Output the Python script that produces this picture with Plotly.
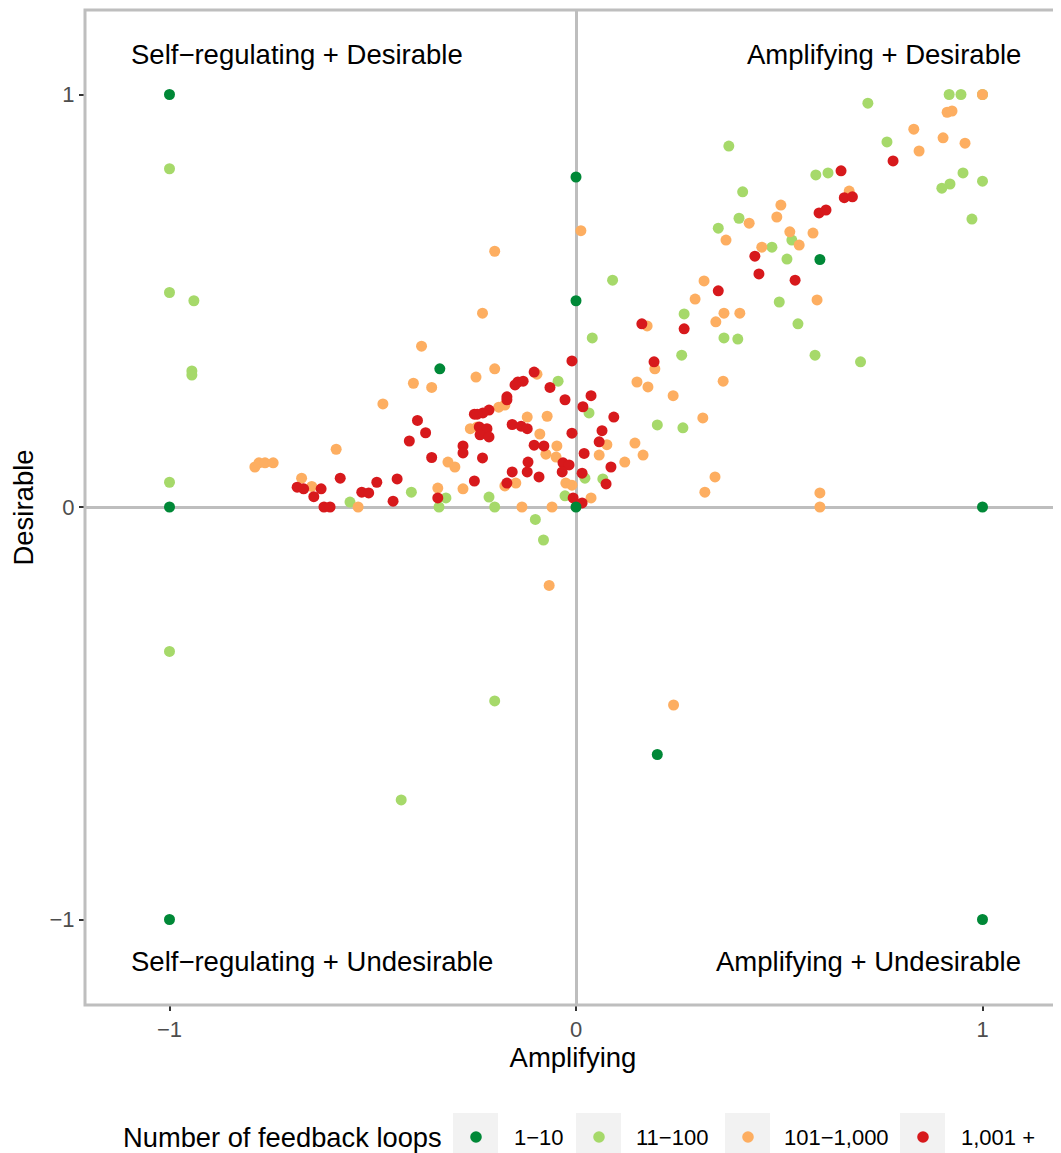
import plotly.graph_objects as go

# ---- data (Amplifying, Desirable) by number of feedback loops ----
loops_1_10_x = [-1, -1, -1, 0, 0, 0, -0.335, 0.60, 0.20, 1, 1]
loops_1_10_y = [1, 0, -1, 0.80, 0.50, 0, 0.335, 0.60, -0.60, 0, -1]

loops_11_100_x = [-1, -1, -0.94, -0.945, -0.945, -1, -1, -0.20, -0.43, -0.08, -0.10,
                  0.09, 0.04, -0.556, -0.405, -0.337, -0.32, -0.214, -0.20, -0.044,
                  0.032, 0.022, -0.027, 0.066, 0.20, 0.263, 0.266, 0.364, 0.26, 0.376,
                  0.59, 0.62, 0.41, 0.401, 0.35, 0.531, 0.482, 0.519, 0.50, 0.546,
                  0.398, 0.918, 0.947, 1.0, 0.718, 0.765, 0.952, 0.92, 0.90, 1.0,
                  0.974, 0.588, 0.70]
loops_11_100_y = [0.82, 0.52, 0.50, 0.33, 0.32, 0.06, -0.35, -0.47, -0.71, -0.08, -0.03,
                  0.55, 0.41, 0.012, 0.036, 0.0, 0.022, 0.024, 0.0, 0.305,
                  0.228, 0.07, 0.027, 0.068, 0.199, 0.192, 0.468, 0.41, 0.368, 0.875,
                  0.805, 0.81, 0.764, 0.70, 0.676, 0.647, 0.63, 0.601, 0.497, 0.444,
                  0.407, 1.0, 1.0, 1.0, 0.979, 0.885, 0.81, 0.783, 0.773, 0.79,
                  0.698, 0.368, 0.352]

loops_101_1000_x = [1.0, 0.24, -0.066, -0.20, -0.23, 0.012, -0.38, -0.40, -0.355, -0.475,
                    -0.59, -0.536, -0.79, -0.78, -0.765, -0.745, -0.675, -0.65, -0.34,
                    -0.246, -0.20, -0.096, -0.19, -0.175, -0.26, -0.243, -0.12, -0.071,
                    -0.089, -0.047, -0.074, -0.049, -0.315, -0.298, -0.148, -0.175,
                    -0.278, -0.133, -0.059, -0.025, -0.01, 0.175, 0.315, 0.293, 0.344,
                    0.364, 0.194, 0.15, 0.177, 0.239, 0.362, 0.076, 0.057, 0.145, 0.165,
                    0.12, 0.312, 0.037, 0.342, 0.317, 0.672, 0.504, 0.494, 0.426, 0.369,
                    0.526, 0.583, 0.549, 0.457, 0.593, 0.403, 0.913, 0.925, 0.831, 0.903,
                    0.957, 0.844, 0.60, 0.60]
loops_101_1000_y = [1.0, -0.48, -0.19, 0.62, 0.47, 0.67, 0.39, 0.30, 0.29, 0.25,
                    0.14, 0.0, 0.097, 0.107, 0.107, 0.107, 0.07, 0.05, 0.046,
                    0.315, 0.335, 0.322, 0.242, 0.247, 0.19, 0.194, 0.218, 0.22,
                    0.177, 0.148, 0.128, 0.121, 0.109, 0.097, 0.058, 0.051,
                    0.044, 0.0, 0.0, 0.058, 0.053, 0.439, 0.548, 0.504, 0.449,
                    0.47, 0.335, 0.303, 0.291, 0.27, 0.305, 0.151, 0.126, 0.155, 0.126,
                    0.109, 0.216, 0.022, 0.073, 0.036, 0.766, 0.732, 0.703, 0.688, 0.647,
                    0.667, 0.664, 0.635, 0.63, 0.502, 0.47, 0.957, 0.96, 0.916, 0.895,
                    0.882, 0.863, 0.034, 0.0]

loops_1001_x = [-0.39, -0.37, -0.41, -0.355, -0.58, -0.44, -0.49, -0.686, -0.67, -0.627,
                -0.645, -0.62, -0.605, -0.527, -0.51, -0.45, -0.34, -0.103, -0.01, -0.064,
                -0.027, -0.143, -0.13, -0.15, -0.17, -0.17, -0.214, -0.229, -0.25, -0.243,
                -0.238, -0.219, -0.236, -0.214, -0.157, -0.135, -0.12, -0.103, -0.079,
                -0.01, -0.032, -0.017, -0.034, 0.02, 0.015, -0.278, -0.278, -0.23, -0.118,
                -0.12, -0.091, -0.157, -0.17, -0.25, -0.007, 0.015, 0.162, 0.35, 0.266,
                0.192, 0.037, 0.017, 0.093, 0.064, 0.057, 0.086, 0.074, 0.652, 0.66, 0.68,
                0.598, 0.615, 0.44, 0.45, 0.539, 0.78]
loops_1001_y = [0.21, 0.18, 0.16, 0.12, 0.07, 0.068, 0.06, 0.048, 0.044, 0.044,
                0.025, 0.0, 0.0, 0.036, 0.034, 0.014, 0.022, 0.327, 0.354, 0.29,
                0.26, 0.303, 0.305, 0.296, 0.267, 0.26, 0.235, 0.228, 0.225, 0.225,
                0.194, 0.19, 0.175, 0.17, 0.20, 0.196, 0.19, 0.15, 0.148,
                0.179, 0.107, 0.102, 0.085, 0.13, 0.082, 0.148, 0.131, 0.119, 0.109,
                0.085, 0.073, 0.085, 0.058, 0.063, 0.022, 0.01, 0.444, 0.524, 0.432,
                0.352, 0.27, 0.243, 0.218, 0.185, 0.158, 0.097, 0.056, 0.815, 0.75, 0.752,
                0.713, 0.72, 0.608, 0.565, 0.55, 0.839]

group_labels = ["1\u221210", "11\u2212100", "101\u22121,000", "1,001 +"]
group_colors = ["#008837", "#A6D96A", "#FDAE61", "#D7191C"]
quadrant_labels = ["Self\u2212regulating + Desirable", "Amplifying + Desirable",
                   "Self\u2212regulating + Undesirable", "Amplifying + Undesirable"]
tick_vals = [-1, 0, 1]
tick_text = ["\u22121", "0", "1"]

FONT = "Liberation Sans, Arial, sans-serif"
OFF = 8  # page body margin
W, H = 1061 - OFF, 1153 - OFF
L, T = 85 - OFF, 10 - OFF
PB = 1005 - OFF          # plot bottom in figure px
B = H - PB
PW, PH = W - L, PB - T

def px_x(p):  # reference-image px -> paper
    return (p - OFF - L) / PW

def px_y(p):
    return (PB - (p - OFF)) / PH

fig = go.Figure()
series = {
    1: (loops_11_100_x, loops_11_100_y),
    2: (loops_101_1000_x, loops_101_1000_y),
    3: (loops_1001_x, loops_1001_y),
    0: (loops_1_10_x, loops_1_10_y),
}
for i, (xs, ys) in series.items():
    fig.add_trace(go.Scatter(
        x=xs, y=ys, mode="markers", name=group_labels[i],
        marker=dict(size=11, color=group_colors[i], line=dict(width=0)),
        showlegend=False,
    ))

# quadrant labels
qpos = [(-1.10, 1.098, "left"), (1.10, 1.098, "right"),
        (-1.10, -1.103, "left"), (1.10, -1.103, "right")]
for (qx, qy, anchor), txt in zip(qpos, quadrant_labels):
    fig.add_annotation(x=qx, y=qy, text=txt, showarrow=False, xanchor=anchor,
                       yanchor="middle", font=dict(family=FONT, size=27.5, color="#000000"))

shapes = []
# panel border (left, top, bottom; right edge falls outside the image)
shapes.append(dict(type="rect", xref="paper", yref="paper", x0=0, x1=1.01, y0=0, y1=1,
                   line=dict(color="#BEBEBE", width=3), fillcolor="rgba(0,0,0,0)",
                   layer="above"))

# manual legend
leg_y = 1137
fig.add_annotation(xref="paper", yref="paper", x=px_x(121), y=px_y(leg_y),
                   text="Number of feedback loops", showarrow=False, xanchor="left",
                   yanchor="middle", font=dict(family=FONT, size=27.3, color="#000000"))
key_left = [453, 576, 725, 900]
text_left = [512, 634, 782, 959]
for i in range(4):
    x0 = key_left[i]
    shapes.append(dict(type="rect", xref="paper", yref="paper",
                       x0=px_x(x0), x1=px_x(x0 + 45), y0=px_y(1162), y1=px_y(1113),
                       fillcolor="#F2F2F2", line=dict(width=0), layer="above"))
    cx = x0 + 23
    r = 5.8
    shapes.append(dict(type="circle", xref="paper", yref="paper",
                       x0=px_x(cx - r), x1=px_x(cx + r), y0=px_y(leg_y + r), y1=px_y(leg_y - r),
                       fillcolor=group_colors[i], line=dict(width=0), layer="above"))
    fig.add_annotation(xref="paper", yref="paper", x=px_x(text_left[i]), y=px_y(leg_y),
                       text=group_labels[i], showarrow=False, xanchor="left",
                       yanchor="middle", font=dict(family=FONT, size=22, color="#000000"))

fig.update_layout(
    width=W, height=H,
    margin=dict(l=L, r=0, t=T, b=B, pad=0),
    paper_bgcolor="white", plot_bgcolor="white",
    font=dict(family=FONT, color="#000000"),
    shapes=shapes,
    xaxis=dict(
        range=[(85 - 576) / 406.5, (1061 - 576) / 406.5],
        tickvals=tick_vals, ticktext=tick_text,
        ticks="outside", ticklen=5, tickwidth=2, tickcolor="#333333",
        tickfont=dict(family=FONT, size=22, color="#4D4D4D"),
        showgrid=False, zeroline=True, zerolinecolor="#BEBEBE", zerolinewidth=3,
        showline=False,
        title=dict(text="Amplifying", font=dict(family=FONT, size=27.5, color="#000000"), standoff=6),
    ),
    yaxis=dict(
        range=[(507 - 1005) / 412.5, (507 - 10) / 412.5],
        tickvals=tick_vals, ticktext=tick_text,
        ticks="outside", ticklen=5, tickwidth=2, tickcolor="#333333",
        tickfont=dict(family=FONT, size=22, color="#4D4D4D"),
        showgrid=False, zeroline=True, zerolinecolor="#BEBEBE", zerolinewidth=3,
        showline=False,
        title=dict(text="Desirable", font=dict(family=FONT, size=27.5, color="#000000"), standoff=10),
    ),
)

fig.write_html("out.html")
